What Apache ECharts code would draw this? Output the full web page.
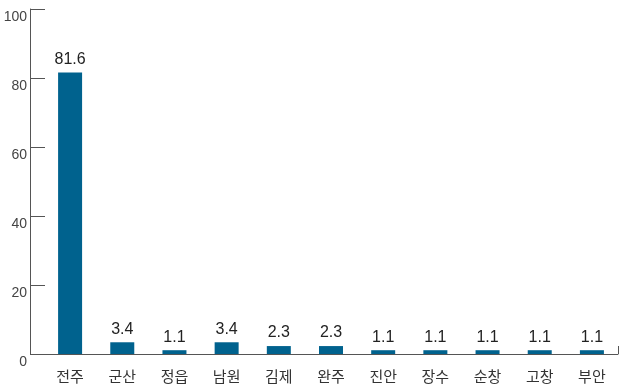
<!DOCTYPE html>
<html>
<head>
<meta charset="utf-8">
<script src="https://cdn.jsdelivr.net/npm/echarts@6/dist/echarts.min.js"></script>
<style>
  html, body { margin: 0; padding: 0; background: #fff; }
  #chart { width: 620px; height: 385px; }
</style>
</head>
<body>
<div id="chart"></div>
<script>
var regions = ['전주', '군산', '정읍', '남원', '김제', '완주', '진안', '장수', '순창', '고창', '부안'];
var shares = [81.6, 3.4, 1.1, 3.4, 2.3, 2.3, 1.1, 1.1, 1.1, 1.1, 1.1];
var yTicks = [0, 20, 40, 60, 80, 100];

var myChart = echarts.init(document.getElementById('chart'));
var axisGray = '#555';

var option = {
    backgroundColor: '#fff',
    animation: false,
    textStyle: { fontFamily: 'Arial, "Liberation Sans", "Noto Sans CJK KR", sans-serif' },
    grid: {
        left: 44,
        right: 2,
        top: 9,
        bottom: 31
    },
    xAxis: {
        type: 'category',
        data: regions,
        boundaryGap: true,
        axisLine: { show: true, lineStyle: { color: axisGray, width: 1 } },
        axisTick: { show: false },
        axisLabel: {
            color: '#333',
            fontSize: 15,
            margin: 15,
            fontFamily: '"Noto Sans CJK KR", sans-serif'
        }
    },
    yAxis: {
        type: 'value',
        min: yTicks[0],
        max: yTicks[yTicks.length - 1],
        interval: 20,
        offset: 14,
        axisLine: { show: true, lineStyle: { color: axisGray, width: 1 } },
        axisTick: { show: true, inside: true, length: 15, lineStyle: { color: axisGray } },
        splitLine: { show: false },
        axisLabel: {
            color: '#444',
            fontSize: 14,
            margin: 3,
            fontFamily: '"Liberation Sans Narrow", "Liberation Sans", sans-serif',
            verticalAlign: 'top',
            padding: [1, 0, 0, 0]
        }
    },
    graphic: [
        // short stub of the x axis left of the grid, and the end tick
        { type: 'line', shape: { x1: 30, y1: 354.5, x2: 44, y2: 354.5 }, style: { stroke: axisGray, lineWidth: 1 } },
        { type: 'line', shape: { x1: 618.5, y1: 346, x2: 618.5, y2: 354 }, style: { stroke: axisGray, lineWidth: 1 } }
    ],
    series: [{
        type: 'bar',
        data: shares,
        barWidth: 24,
        itemStyle: { color: '#00628e' },
        label: {
            show: true,
            position: 'top',
            distance: 5,
            color: '#222',
            fontSize: 16,
            formatter: function (p) { return p.value.toFixed(1); }
        }
    }]
};

myChart.setOption(option);
window.onresize = myChart.resize;
</script>
</body>
</html>
